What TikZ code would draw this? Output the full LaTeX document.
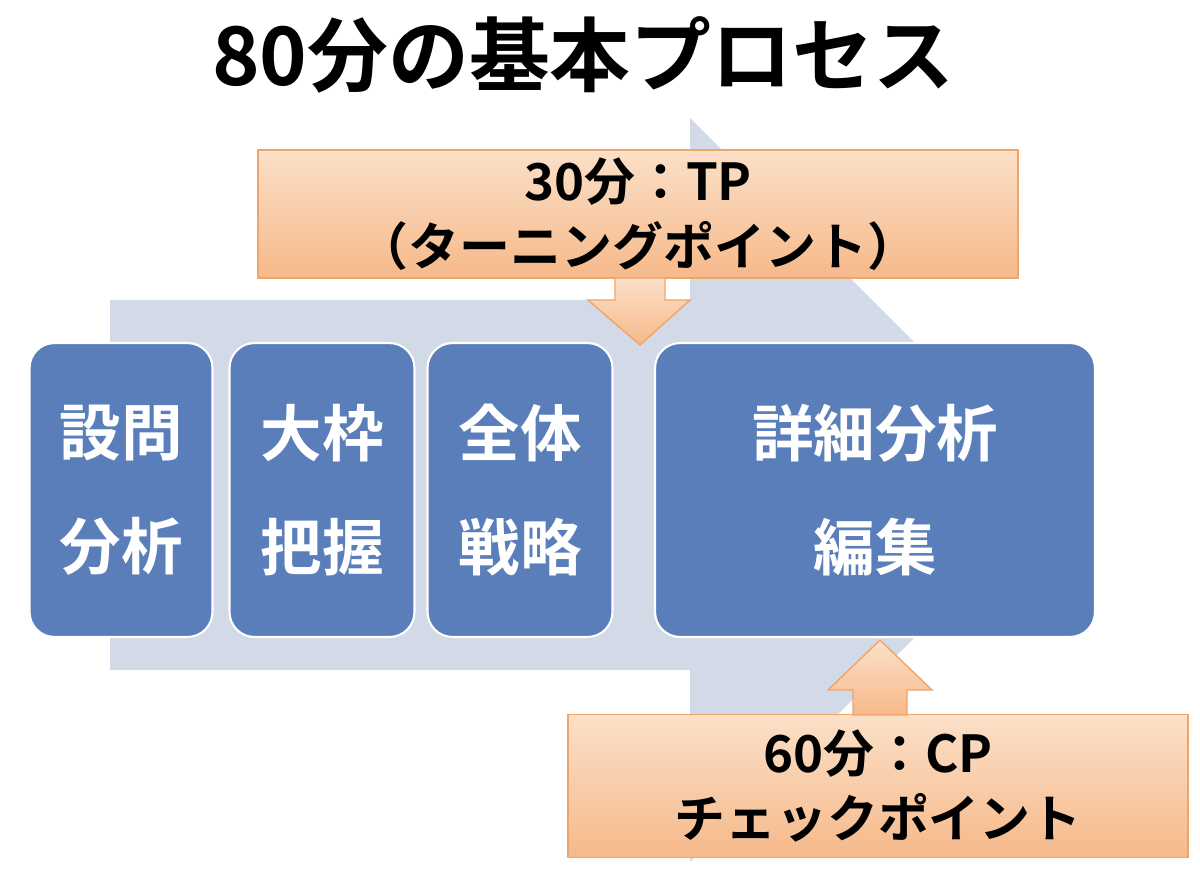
\documentclass[tikz,border=0pt]{standalone}
\usepackage{fontspec}
\setmainfont{Noto Sans CJK JP}[BoldFont={Noto Sans CJK JP Bold}]
\usetikzlibrary{positioning}
\definecolor{flowgrey}{HTML}{D3DAE7}
\definecolor{stepblue}{HTML}{5A7EB9}
\definecolor{peachtop}{HTML}{FBE0C8}
\definecolor{peachbot}{HTML}{F6B98A}
\definecolor{peachline}{HTML}{EFA46A}
\tikzset{
stepbox/.style={rectangle, rounded corners=0.5cm, draw=white, line width=1.2pt, fill=stepblue, text=white, font=\bfseries\fontsize{35}{65}\selectfont, align=center, inner sep=0pt},
notebox/.style={rectangle, draw=peachline, line width=0.8pt, top color=peachtop, bottom color=peachbot, font=\bfseries\fontsize{29}{37}\selectfont, align=center, inner sep=0pt},
notearrow/.style={draw=peachline, line width=0.8pt, top color=peachtop, bottom color=peachbot},
}
\begin{document}
\begin{tikzpicture}[x=0.02cm,y=-0.02cm]
    \useasboundingbox (0,0) rectangle (1200,873);
    \fill[white] (0,0) rectangle (1200,873);
    \node (title) at (583,55) {\bfseries\fontsize{46}{52}\selectfont 80分の基本プロセス};
    % background flow arrow
    \fill[flowgrey] (110,300) -- (690,300) -- (690,118) -- (1062,490) -- (690,862) -- (690,670) -- (110,670) -- cycle;
    % steps
    \node[stepbox, minimum width=3.66cm, minimum height=5.88cm] (s1) at (121,490) {設問\\分析};
    \node[stepbox, minimum width=3.7cm, minimum height=5.88cm] (s2) at (322,490) {大枠\\把握};
    \node[stepbox, minimum width=3.7cm, minimum height=5.88cm] (s3) at (520,490) {全体\\戦略};
    \node[stepbox, minimum width=8.8cm, minimum height=5.88cm] (s4) at (875,490) {詳細分析\\編集};
    % turning point
    \node[notebox, minimum width=15.2cm, minimum height=2.56cm] (tp) at (638,214) {30分：TP\\（ターニングポイント）};
    \draw[notearrow] (615,278) -- (665,278) -- (665,300) -- (690,300) -- (640,345) -- (588,300) -- (615,300) -- cycle;
    % check point
    \node[notebox, minimum width=12.4cm, minimum height=2.86cm] (cp) at (878,786) {60分：CP\\チェックポイント};
    \draw[notearrow] (853,715) -- (853,690) -- (828,690) -- (880,640) -- (932,690) -- (907,690) -- (907,715) -- cycle;
\end{tikzpicture}
\end{document}
